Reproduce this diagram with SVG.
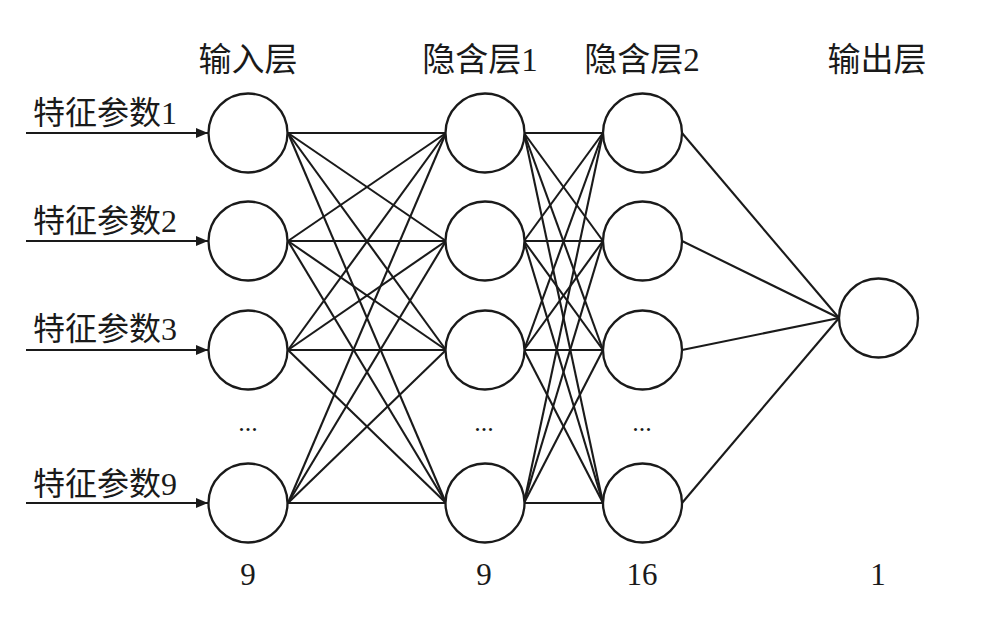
<svg xmlns="http://www.w3.org/2000/svg" width="996" height="639" viewBox="0 0 996 639">
<style>
.n{fill:#fff;stroke:#1a1a1a;stroke-width:2.3}
.c line{stroke:#1a1a1a;stroke-width:2.1}
.t{font-family:"Liberation Serif","Noto Sans CJK SC",serif;fill:#1a1a1a}
.h{font-size:33px;text-anchor:middle}
.f{font-size:32px}
.d{font-size:26px;text-anchor:middle}
.b{font-size:31px;text-anchor:middle}
</style>
<defs>
<marker id="ah" viewBox="0 0 12 10" refX="12" refY="5" markerWidth="12" markerHeight="10" markerUnits="userSpaceOnUse" orient="auto">
<path d="M0,0 L12,5 L0,10 z" fill="#1a1a1a"/>
</marker>
</defs>
<rect width="996" height="639" fill="#fff"/>
<g class="t">
<text class="h" x="248" y="71">输入层</text>
<text class="h" x="480" y="71">隐含层1</text>
<text class="h" x="642" y="71">隐含层2</text>
<text class="h" x="877" y="71">输出层</text>
<text class="f" x="33" y="124">特征参数1</text>
<text class="f" x="33" y="232">特征参数2</text>
<text class="f" x="33" y="340">特征参数3</text>
<text class="f" x="33" y="495">特征参数9</text>
<text class="d" x="248" y="431">...</text>
<text class="d" x="484" y="431">...</text>
<text class="d" x="642" y="431">...</text>
<text class="b" x="248" y="585">9</text>
<text class="b" x="484" y="585">9</text>
<text class="b" x="642" y="585">16</text>
<text class="b" x="878" y="585">1</text>
</g>
<g id="connectors" class="c">
<line x1="26" y1="133" x2="208" y2="133" marker-end="url(#ah)"/>
<line x1="26" y1="241" x2="208" y2="241" marker-end="url(#ah)"/>
<line x1="26" y1="350" x2="208" y2="350" marker-end="url(#ah)"/>
<line x1="26" y1="503" x2="208" y2="503" marker-end="url(#ah)"/>
<line x1="288" y1="133" x2="446" y2="133"/>
<line x1="288" y1="133" x2="446" y2="241"/>
<line x1="288" y1="133" x2="446" y2="350"/>
<line x1="288" y1="133" x2="446" y2="503"/>
<line x1="288" y1="241" x2="446" y2="133"/>
<line x1="288" y1="241" x2="446" y2="241"/>
<line x1="288" y1="241" x2="446" y2="350"/>
<line x1="288" y1="241" x2="446" y2="503"/>
<line x1="288" y1="350" x2="446" y2="133"/>
<line x1="288" y1="350" x2="446" y2="241"/>
<line x1="288" y1="350" x2="446" y2="350"/>
<line x1="288" y1="350" x2="446" y2="503"/>
<line x1="288" y1="503" x2="446" y2="133"/>
<line x1="288" y1="503" x2="446" y2="241"/>
<line x1="288" y1="503" x2="446" y2="350"/>
<line x1="288" y1="503" x2="446" y2="503"/>
<line x1="524" y1="133" x2="603" y2="133"/>
<line x1="524" y1="133" x2="603" y2="241"/>
<line x1="524" y1="133" x2="603" y2="350"/>
<line x1="524" y1="133" x2="603" y2="503"/>
<line x1="524" y1="241" x2="603" y2="133"/>
<line x1="524" y1="241" x2="603" y2="241"/>
<line x1="524" y1="241" x2="603" y2="350"/>
<line x1="524" y1="241" x2="603" y2="503"/>
<line x1="524" y1="350" x2="603" y2="133"/>
<line x1="524" y1="350" x2="603" y2="241"/>
<line x1="524" y1="350" x2="603" y2="350"/>
<line x1="524" y1="350" x2="603" y2="503"/>
<line x1="524" y1="503" x2="603" y2="133"/>
<line x1="524" y1="503" x2="603" y2="241"/>
<line x1="524" y1="503" x2="603" y2="350"/>
<line x1="524" y1="503" x2="603" y2="503"/>
<line x1="682" y1="133" x2="839" y2="318"/>
<line x1="682" y1="241" x2="839" y2="318"/>
<line x1="682" y1="350" x2="839" y2="318"/>
<line x1="682" y1="503" x2="839" y2="318"/>
</g>
<g id="in1"><circle class="n" cx="248" cy="133" r="39.5"/></g>
<g id="in2"><circle class="n" cx="248" cy="241" r="39.5"/></g>
<g id="in3"><circle class="n" cx="248" cy="350" r="39.5"/></g>
<g id="in9"><circle class="n" cx="248" cy="503" r="39.5"/></g>
<g id="h1a"><circle class="n" cx="485" cy="133" r="39.5"/></g>
<g id="h1b"><circle class="n" cx="485" cy="241" r="39.5"/></g>
<g id="h1c"><circle class="n" cx="485" cy="350" r="39.5"/></g>
<g id="h1d"><circle class="n" cx="485" cy="503" r="39.5"/></g>
<g id="h2a"><circle class="n" cx="642.5" cy="133" r="39.5"/></g>
<g id="h2b"><circle class="n" cx="642.5" cy="241" r="39.5"/></g>
<g id="h2c"><circle class="n" cx="642.5" cy="350" r="39.5"/></g>
<g id="h2d"><circle class="n" cx="642.5" cy="503" r="39.5"/></g>
<g id="out"><circle class="n" cx="878.5" cy="318" r="39.5"/></g>
</svg>
